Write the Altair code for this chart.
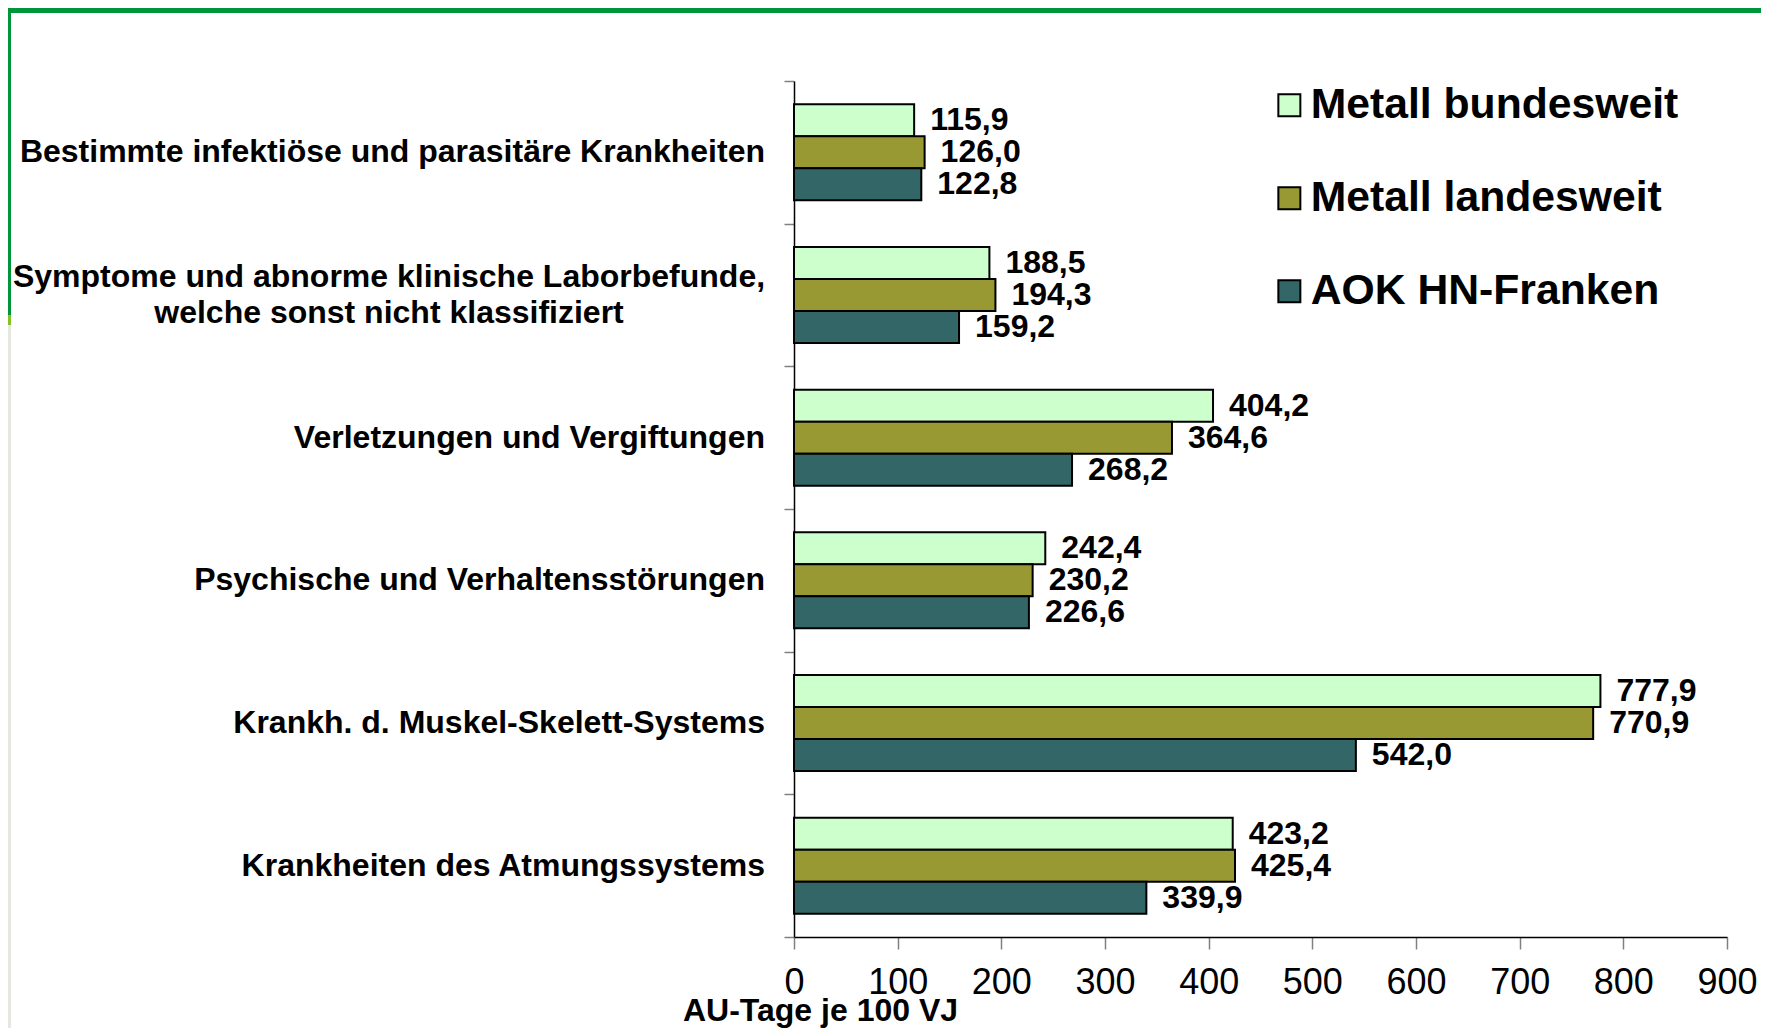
import altair as alt
import pandas as pd

categories = [
    "Bestimmte infektiöse und parasitäre Krankheiten",
    "Symptome und abnorme klinische Laborbefunde,\nwelche sonst nicht klassifiziert",
    "Verletzungen und Vergiftungen",
    "Psychische und Verhaltensstörungen",
    "Krankh. d. Muskel-Skelett-Systems",
    "Krankheiten des Atmungssystems",
]
series = ["Metall bundesweit", "Metall landesweit", "AOK HN-Franken"]
bundesweit = [115.9, 188.5, 404.2, 242.4, 777.9, 423.2]
landesweit = [126.0, 194.3, 364.6, 230.2, 770.9, 425.4]
aok = [122.8, 159.2, 268.2, 226.6, 542.0, 339.9]
colors = ["#CCFFCC", "#999933", "#336666"]
x_ticks = [0, 100, 200, 300, 400, 500, 600, 700, 800, 900]
x_title = "AU-Tage je 100 VJ"

rows = []
for s, vals in zip(series, [bundesweit, landesweit, aok]):
    for c, v in zip(categories, vals):
        rows.append({"Kategorie": c, "Serie": s, "Wert": v})
df = pd.DataFrame(rows)
cat_df = pd.DataFrame({"Kategorie": categories, "multi": [("\n" in c) for c in categories]})

FONT = "Liberation Sans"

y_enc = alt.Y(
    "Kategorie:N",
    sort=categories,
    title=None,
    scale=alt.Scale(paddingInner=0, paddingOuter=0),
    axis=alt.Axis(
        tickBand="extent",
        tickSize=10,
        tickColor="#808080",
        tickWidth=1.5,
        domainColor="black",
        domainWidth=1.5,
        labels=False,
        grid=False,
    ),
)
yoff_enc = alt.YOffset("Serie:N", sort=series, scale=alt.Scale(paddingInner=0, paddingOuter=0.73))
x_enc = alt.X(
    "Wert:Q",
    title=x_title,
    scale=alt.Scale(domain=[0, 900], nice=False, zero=True),
    axis=alt.Axis(
        values=x_ticks,
        tickSize=12,
        tickColor="#808080",
        tickWidth=1.5,
        domainColor="black",
        domainWidth=1.5,
        labelFont=FONT,
        labelFontSize=36,
        labelFontWeight="normal",
        labelColor="black",
        labelBaseline="middle",
        labelPadding=33,
        labelFlush=False,
        labelOverlap=False,
        titleFont=FONT,
        titleFontSize=32,
        titleFontWeight="bold",
        titleColor="black",
        titleAlign="center",
        titleBaseline="alphabetic",
        titleAnchor="start",
        titleX=26,
        titleY=83,
        grid=False,
    ),
)
color_enc = alt.Color(
    "Serie:N",
    sort=series,
    scale=alt.Scale(domain=series, range=colors),
    legend=alt.Legend(
        title=None,
        orient="none",
        legendX=474,
        legendY=3,
        direction="vertical",
        symbolType="square",
        symbolSize=484,
        symbolStrokeColor="black",
        symbolStrokeWidth=2,
        symbolOpacity=1,
        labelFont=FONT,
        labelFontSize=42.7,
        labelFontWeight="bold",
        labelColor="black",
        labelOffset=0,
        labelLimit=2000,
        rowPadding=49,
        padding=0,
    ),
)

base = alt.Chart(df)
bars = base.mark_bar(stroke="black", strokeWidth=2).encode(
    x=x_enc, y=y_enc, yOffset=yoff_enc, color=color_enc
)
labels = base.transform_calculate(
    label="replace(format(datum.Wert, '.1f'), '.', ',')"
).mark_text(
    align="left", baseline="middle", dx=16, font=FONT, fontSize=32, fontWeight="bold", color="black"
).encode(x=x_enc, y=y_enc, yOffset=yoff_enc, text="label:N")

cat_single = alt.Chart(cat_df).transform_filter("!datum.multi").mark_text(
    align="right", baseline="middle", dx=-29, font=FONT, fontSize=32, fontWeight="bold", color="black"
).encode(x=alt.value(0), y=y_enc, text="Kategorie:N")
cat_multi = alt.Chart(cat_df).transform_filter("datum.multi").mark_text(
    align="center", baseline="middle", dx=-405, dy=-18, font=FONT, fontSize=32, fontWeight="bold",
    color="black", lineBreak="\n", lineHeight=36
).encode(x=alt.value(0), y=y_enc, text="Kategorie:N")

# slide frame decoration (green top bar and left strip)
deco_df = pd.DataFrame({"k": [0]})
top_bar = alt.Chart(deco_df).mark_rect(color="#00953A").encode(
    x=alt.value(-786), x2=alt.value(967), y=alt.value(-73), y2=alt.value(-68)
)
left_green = alt.Chart(deco_df).mark_rect(color="#00953A").encode(
    x=alt.value(-786), x2=alt.value(-783), y=alt.value(-73), y2=alt.value(234)
)
left_lime = alt.Chart(deco_df).mark_rect(color="#84C225").encode(
    x=alt.value(-786), x2=alt.value(-783), y=alt.value(234), y2=alt.value(244)
)
left_grey = alt.Chart(deco_df).mark_rect(color="#E4E8E0").encode(
    x=alt.value(-786), x2=alt.value(-783), y=alt.value(244), y2=alt.value(947)
)

chart = alt.layer(top_bar, left_green, left_lime, left_grey, bars, labels, cat_single, cat_multi).properties(
    width=933,
    height=856,
    autosize=alt.AutoSizeParams(type="none"),
    padding={"left": 786, "top": 73, "right": 34, "bottom": 91},
    background="white",
).configure_view(stroke=None)

chart.save("out.html", embed_options={"renderer": "svg", "actions": False})
